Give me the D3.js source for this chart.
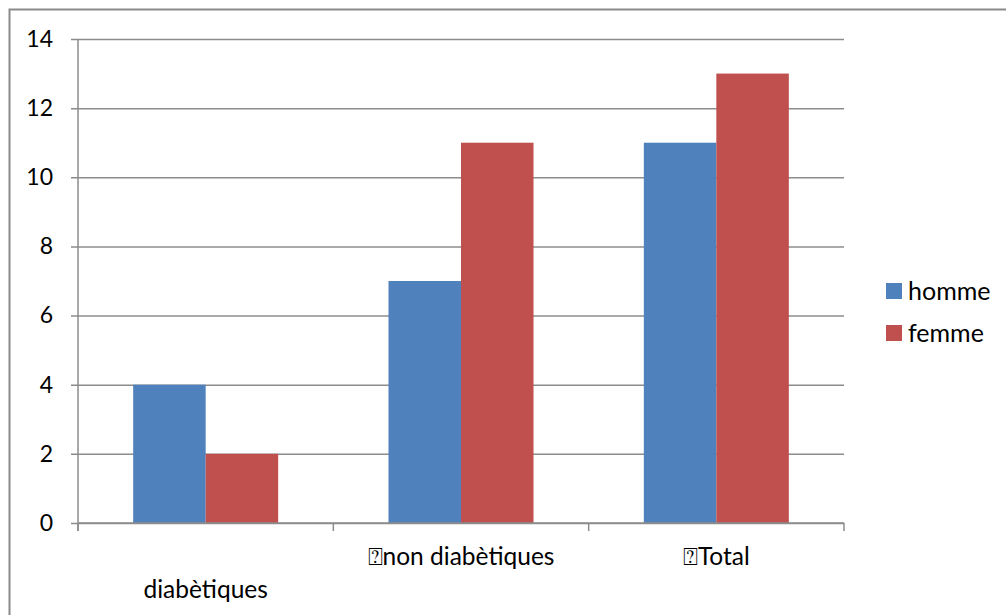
<!DOCTYPE html>
<html>
<head>
<meta charset="utf-8">
<script src="https://cdn.jsdelivr.net/npm/d3@7"></script>
<style>
  html, body { margin: 0; padding: 0; background: #fff; }
  svg text { font-family: Lato, "Open Sans", "Liberation Sans", sans-serif; fill: #000; }
</style>
</head>
<body>
<svg id="chart" width="1006" height="615"></svg>
<script>
// Category labels (the last two carry a leading unknown glyph)
const categories = ["diabètiques", "\u2370non diabètiques", "\u2370Total"];
const seriesNames = ["homme", "femme"];
const homme = [4, 7, 11];
const femme = [2, 11, 13];
const yTicks = [0, 2, 4, 6, 8, 10, 12, 14];
const colors = ["#4F81BD", "#C0504D"];

const svg = d3.select("#chart");
const W = 1006, H = 615;
const plot = { left: 78, right: 844, top: 39, bottom: 523 };
const fontSize = 23;

// outer chart border (runs past the right and bottom edges)
svg.append("rect")
  .attr("x", 9.5).attr("y", 9.5)
  .attr("width", W).attr("height", H)
  .attr("fill", "none").attr("stroke", "#8a8a8a").attr("stroke-width", 2);

const x = d3.scaleBand().domain(categories).range([plot.left, plot.right]).paddingInner(0).paddingOuter(0);
const bandPad = (x.bandwidth() - 145) / 2;
const xs = d3.scaleBand().domain(seriesNames).range([bandPad, x.bandwidth() - bandPad]).padding(0);
const y = d3.scaleLinear().domain([0, 14]).range([plot.bottom, plot.top]);

// horizontal gridlines with short ticks to the left
const yAxis = d3.axisLeft(y).tickValues(yTicks).tickSize(-(plot.right - plot.left)).tickFormat(d3.format("d"));
const gy = svg.append("g").attr("transform", `translate(${plot.left},0)`).call(yAxis);
gy.select(".domain").remove();
gy.selectAll(".tick line").attr("stroke", "#8c8c8c").attr("stroke-width", 1.5).attr("x1", -7);
gy.selectAll(".tick text").attr("font-size", fontSize).attr("x", -25).attr("text-anchor", "end");

// vertical axis line
svg.append("line")
  .attr("x1", plot.left).attr("x2", plot.left)
  .attr("y1", plot.top).attr("y2", plot.bottom + 8)
  .attr("stroke", "#8c8c8c").attr("stroke-width", 1.5);

// bars
const data = categories.map((c, i) => ({ cat: c, vals: [homme[i], femme[i]] }));
const groups = svg.append("g").selectAll("g").data(data).join("g")
  .attr("transform", d => `translate(${x(d.cat)},0)`);
groups.selectAll("rect")
  .data(d => d.vals.map((v, j) => ({ name: seriesNames[j], v, j })))
  .join("rect")
  .attr("x", d => xs(d.name))
  .attr("width", xs.bandwidth())
  .attr("y", d => y(d.v))
  .attr("height", d => y(0) - y(d.v))
  .attr("fill", d => colors[d.j]);

// category axis
const gx = svg.append("g").attr("transform", `translate(0,${plot.bottom})`);
gx.append("line").attr("x1", plot.left).attr("x2", plot.right)
  .attr("stroke", "#8c8c8c").attr("stroke-width", 1.5);
const bounds = [plot.left, ...categories.map(c => x(c) + x.bandwidth())];
gx.selectAll("line.tk").data(bounds).join("line").attr("class", "tk")
  .attr("x1", d => d).attr("x2", d => d).attr("y1", 0).attr("y2", 8)
  .attr("stroke", "#8c8c8c").attr("stroke-width", 1.5);

// category labels: the first one wraps onto a second line
const labelRow = [1, 0, 0];
gx.selectAll("text.cat").data(categories).join("text").attr("class", "cat")
  .attr("x", d => x(d) + x.bandwidth() / 2)
  .attr("y", (d, i) => 25 + labelRow[i] * 33)
  .attr("dy", "0.71em")
  .attr("text-anchor", "middle")
  .attr("font-size", 24.5)
  .text(d => d);

// legend
const legend = svg.append("g").attr("transform", "translate(886,283)");
const li = legend.selectAll("g").data(seriesNames).join("g")
  .attr("transform", (d, i) => `translate(0,${i * 42})`);
li.append("rect").attr("width", 16).attr("height", 16).attr("fill", (d, i) => colors[i]);
li.append("text").attr("x", 22).attr("y", 8).attr("dy", "0.36em")
  .attr("font-size", 25).text(d => d);
</script>
</body>
</html>
